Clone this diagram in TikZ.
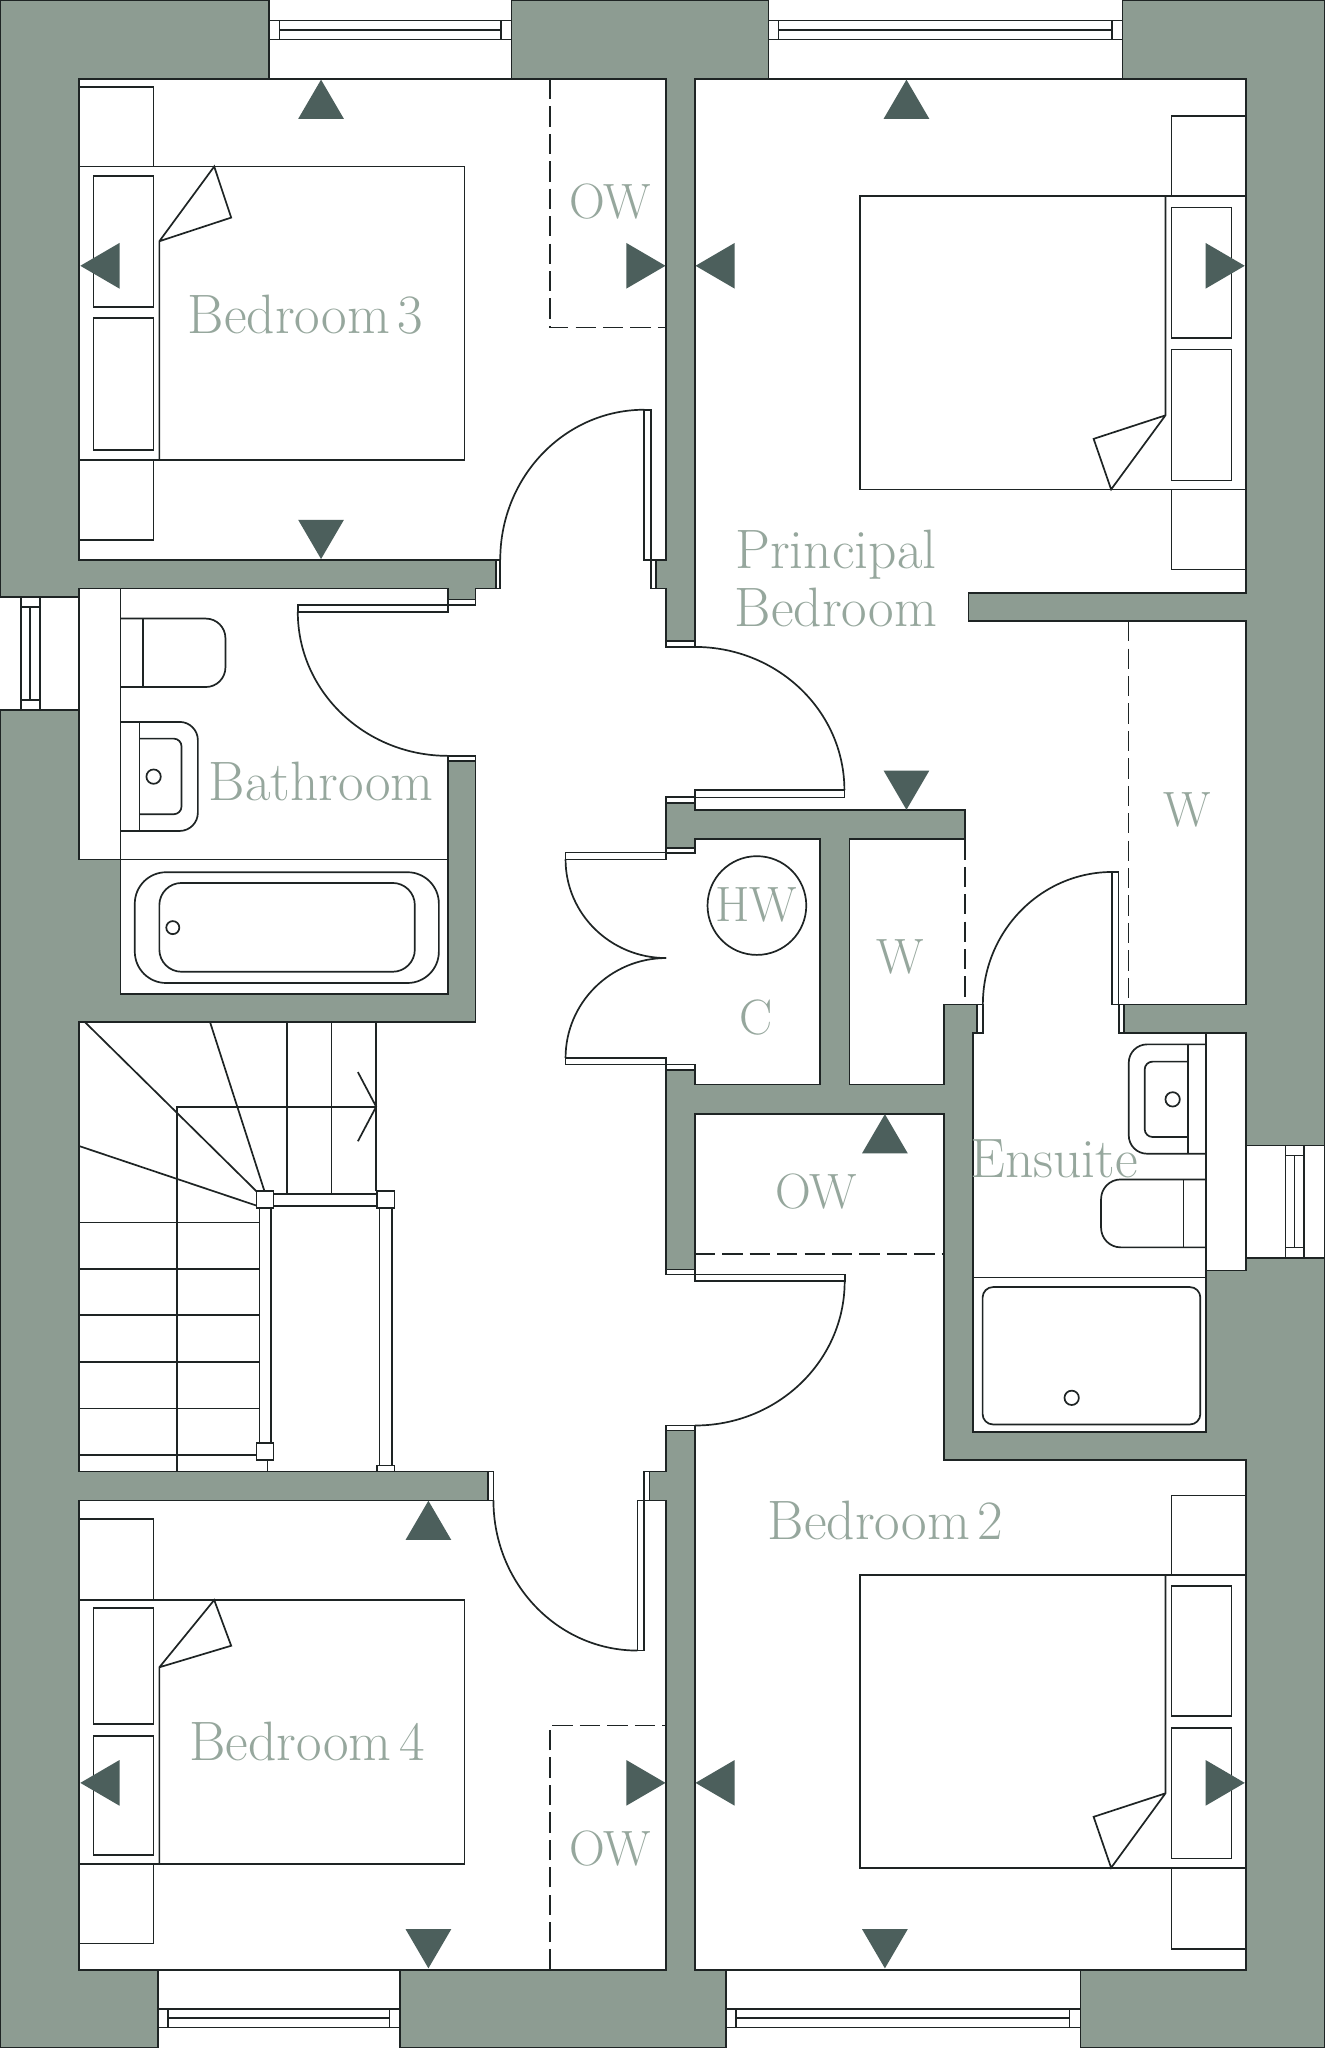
\documentclass[tikz,border=0pt]{standalone}
\usepackage{fontspec}
\newfontfamily\labfont{Latin Modern Roman}
\definecolor{wallc}{HTML}{8D9C92}
\definecolor{markc}{HTML}{4C5F5C}
\definecolor{labelc}{HTML}{96A79D}
\definecolor{inkc}{HTML}{1E2424}
\tikzset{
  ln/.style={draw=inkc,line width=1.3pt,line join=miter},
  dsh/.style={draw=inkc,line width=1.3pt,dash pattern=on 15.5pt off 5.5pt},
  wh/.style={fill=white,draw=none},
  jamb/.style={fill=white,draw=inkc,line width=1.3pt},
  markfill/.style={fill=markc,draw=none},
  lab/.style={text=labelc,font=\labfont\fontsize{42.5}{44}\selectfont,inner sep=0pt,align=center},
  labs/.style={text=labelc,font=\labfont\fontsize{38}{44}\selectfont,inner sep=0pt,align=center}
}
\newcommand\markU[2]{\fill[markfill] (#1,#2) -- (#1+17.5,#2+30) -- (#1-17.5,#2+30) -- cycle;}
\newcommand\markD[2]{\fill[markfill] (#1,#2) -- (#1+17.5,#2-30) -- (#1-17.5,#2-30) -- cycle;}
\newcommand\markL[2]{\fill[markfill] (#1,#2) -- (#1+30,#2-17.5) -- (#1+30,#2+17.5) -- cycle;}
\newcommand\markR[2]{\fill[markfill] (#1,#2) -- (#1-30,#2-17.5) -- (#1-30,#2+17.5) -- cycle;}
% horizontal window: x1 x2 inner1 inner2 y1 yc y2
\newcommand\winH[7]{\draw[ln] (#1,#5) rectangle (#2,#7); \draw[ln] (#3,#5) -- (#3,#7) (#4,#5) -- (#4,#7) (#3,#6) -- (#4,#6);}
\begin{document}
\begin{tikzpicture}[x=1pt,y=-1pt]
\useasboundingbox (0,0) rectangle (1014,1568);
\fill[wallc] (0,0) rectangle (1014,1568);
\draw[inkc,line width=1.4pt] (0,0) rectangle (1014,1568);
% ---------- white areas
\fill[wh] (60.5,60.5) rectangle (510,428.5);
\fill[wh] (206,0) rectangle (391.5,60.5);
\fill[wh] (588.3,0) rectangle (859.3,60.5);
\fill[wh] (121,1508) rectangle (306,1568);
\fill[wh] (555.6,1508) rectangle (827.3,1568);
\fill[wh] (0,457) rectangle (60.5,543.8);
\fill[wh] (953.8,876.9) rectangle (1014,963);
\fill[wh] (383,428.5) rectangle (498.5,450.6);
\fill[wh] (364,450.6) rectangle (510,782.5);
\fill[wh] (60.5,782.5) rectangle (510,1126.6);
\fill[wh] (92.3,450.6) rectangle (343,760.8);
\fill[wh] (60.5,450.6) rectangle (92.3,658);
\fill[wh] (343,463.3) rectangle (364,578.7);
\fill[wh] (510,495.3) rectangle (532,610);
\fill[wh] (510,653) rectangle (532,815);
\fill[wh] (510,975.7) rectangle (532,1091.4);
\fill[wh] (532,60.5) rectangle (954,454);
\fill[wh] (532,454) rectangle (741.4,620.4);
\fill[wh] (738.7,475.6) rectangle (954,769);
\fill[wh] (650.4,642.6) rectangle (738.7,769);
\fill[wh] (650.4,769) rectangle (722.6,830.4);
\fill[wh] (752.5,769) rectangle (856.6,791);
\fill[wh] (744.8,791) rectangle (923.4,1096.5);
\fill[wh] (923.4,791) rectangle (953.8,972.7);
\fill[wh] (532,642.6) rectangle (628,830.4);
\fill[wh] (532,853) rectangle (722.6,1118);
\fill[wh] (532,1118) rectangle (954,1508);
\fill[wh] (60.5,1148.8) rectangle (510,1508);
\fill[wh] (377.8,1126.6) rectangle (493.2,1148.8);
% ---------- wall outlines
\draw[ln] (383,428.5) -- (60.5,428.5) -- (60.5,60.5) -- (510,60.5) -- (510,428.5) -- (502.5,428.5) -- (502.5,450.6) -- (510,450.6) -- (510,490.6);
\draw[ln] (532,490.6) -- (532,60.5) -- (954,60.5) -- (954,454) -- (741.4,454) -- (741.4,475.6) -- (954,475.6) -- (954,769) -- (860.5,769);
\draw[ln] (510,615) -- (510,649);
\draw[ln] (532,605) -- (532,620.4) -- (738.7,620.4) -- (738.7,642.6) -- (650.4,642.6) -- (650.4,830.4) -- (722.6,830.4) -- (722.6,769) -- (748,769);
\draw[ln] (532,649) -- (532,642.6) -- (628,642.6) -- (628,830.4) -- (532,830.4) -- (532,819);
\draw[ln] (510,819) -- (510,972);
\draw[ln] (532,972) -- (532,853) -- (722.6,853) -- (722.6,1118) -- (954,1118) -- (954,1508) -- (532,1508) -- (532,1095.2);
\draw[ln] (510,1095.2) -- (510,1126.6) -- (497.3,1126.6) -- (497.3,1148.8) -- (510,1148.8) -- (510,1508) -- (60.5,1508) -- (60.5,1148.8) -- (377.8,1148.8);
\draw[ln] (377.8,1126.6) -- (60.5,1126.6) -- (60.5,782.5) -- (364,782.5) -- (364,582.8);
\draw[ln] (343,582.8) -- (343,760.8) -- (92.3,760.8) -- (92.3,658) -- (60.5,658) -- (60.5,450.6) -- (343,450.6) -- (343,459);
\draw[ln] (364,459) -- (364,450.6) -- (383,450.6);
\draw[ln] (92.3,450.6) -- (92.3,658) (92.3,658) -- (343,658);
\draw[ln] (752.5,791) -- (744.8,791) -- (744.8,1096.5) -- (923.4,1096.5) -- (923.4,972.7) -- (953.8,972.7) -- (953.8,791) -- (856.6,791);
\draw[ln] (923.4,791) -- (923.4,972.7) (744.8,978) -- (923.4,978);
% ---------- door jambs
\draw[jamb] (510,490.6) rectangle (532,495.3);
\draw[jamb] (510,610) rectangle (532,615);
\draw[jamb] (510,649) rectangle (532,653);
\draw[jamb] (510,815) rectangle (532,819);
\draw[jamb] (510,972) rectangle (532,975.7);
\draw[jamb] (510,1091.4) rectangle (532,1095.2);
\draw[jamb] (379.5,428.5) rectangle (383,450.6);
\draw[jamb] (498.5,428.5) rectangle (502.5,450.6);
\draw[jamb] (343,459) rectangle (364,463.3);
\draw[jamb] (343,578.7) rectangle (364,582.8);
\draw[jamb] (748,769) rectangle (752.5,791);
\draw[jamb] (856.6,769) rectangle (860.5,791);
\draw[jamb] (373.5,1126.6) rectangle (377.8,1148.8);
\draw[jamb] (493.2,1126.6) rectangle (497.3,1148.8);
% ---------- door leaves
\draw[jamb] (493.3,313.7) rectangle (498.5,428.5);
\draw[jamb] (228,463.3) rectangle (343,468.5);
\draw[jamb] (532,605) rectangle (646.5,610.5);
\draw[jamb] (433,652.8) rectangle (510,658);
\draw[jamb] (433,810) rectangle (510,815);
\draw[jamb] (851.6,667.6) rectangle (856.4,769);
\draw[jamb] (532,975.7) rectangle (646.7,981);
\draw[jamb] (488,1148.8) rectangle (493.2,1263.7);
% ---------- door swings
\draw[ln] (493.3,313.7) .. controls (432.4,313.7) and (383,365.1) .. (383,428.5);
\draw[ln] (228,468.5) .. controls (228,529.4) and (279.5,578.7) .. (343,578.7);
\draw[ln] (532,495.3) .. controls (595.2,495.3) and (646.5,544.4) .. (646.5,605);
\draw[ln] (433,658) .. controls (433,699.7) and (467.5,733.5) .. (510,733.5);
\draw[ln] (433,810) .. controls (433,767.8) and (467.5,733.5) .. (510,733.5);
\draw[ln] (851.6,667.6) .. controls (796.9,667.6) and (752.5,713) .. (752.5,769);
\draw[ln] (646.7,981) .. controls (646.7,1042) and (595.4,1091.4) .. (532,1091.4);
\draw[ln] (377.8,1148.8) .. controls (377.8,1212.3) and (427.1,1263.7) .. (488,1263.7);
% ---------- dashed
\draw[dsh] (864,475.6) -- (864,769);
\draw[dsh] (738.7,642.6) -- (738.7,769);
\draw[dsh] (532,960) -- (722.6,960);
\draw[dsh] (421,60.5) -- (421,250.8) -- (510,250.8);
\draw[dsh] (421,1508) -- (421,1321) -- (510,1321);
% ---------- windows
\draw[ln] (206,0) -- (206,60.5) (391.5,0) -- (391.5,60.5);
\winH{206}{391.5}{214}{383.6}{15.8}{23}{30.3}
\draw[ln] (588.3,0) -- (588.3,60.5) (859.3,0) -- (859.3,60.5);
\winH{588.3}{859.3}{596}{851.4}{15.8}{23}{30.3}
\draw[ln] (121,1508) -- (121,1568) (306,1508) -- (306,1568);
\winH{121}{306}{128.7}{298.2}{1538}{1545}{1552.2}
\draw[ln] (555.6,1508) -- (555.6,1568) (827.3,1508) -- (827.3,1568);
\winH{555.6}{827.3}{563.4}{818.8}{1538}{1545}{1552.2}
\draw[ln] (0,457) -- (60.5,457) (0,543.8) -- (60.5,543.8);
\draw[ln] (16,457) rectangle (30.8,543.8);
\draw[ln] (16,464.6) -- (30.8,464.6) (16,536) -- (30.8,536) (23,464.6) -- (23,536);
\draw[ln] (953.8,876.9) -- (1014,876.9) (953.8,963) -- (1014,963);
\draw[ln] (984.2,876.9) rectangle (998.2,963);
\draw[ln] (984.2,884.6) -- (998.2,884.6) (984.2,955) -- (998.2,955) (991,884.6) -- (991,955);
% ---------- bedroom 3 furniture
\draw[ln] (60.5,66.6) -- (117.6,66.6) -- (117.6,127.5);
\draw[ln] (60.5,127.5) -- (355.6,127.5) -- (355.6,352.2) -- (60.5,352.2);
\draw[ln] (122,352.2) -- (122,184.7) -- (164,127.5) -- (177,166.6) -- (122,184.7);
\draw[ln] (71.5,135) rectangle (117.6,235.3);
\draw[ln] (71.5,243.5) rectangle (117.6,344.3);
\draw[ln] (117.6,352.2) -- (117.6,413.4) -- (60.5,413.4);
% ---------- bedroom 4 furniture
\draw[ln] (60.5,1163) -- (117.6,1163) -- (117.6,1225);
\draw[ln] (60.5,1225) -- (355.6,1225) -- (355.6,1427) -- (60.5,1427);
\draw[ln] (122,1427) -- (122,1276.5) -- (164,1225) -- (177,1260) -- (122,1276.5);
\draw[ln] (71.5,1231) rectangle (117.6,1320);
\draw[ln] (71.5,1329) rectangle (117.6,1420);
\draw[ln] (117.6,1427) -- (117.6,1488) -- (60.5,1488);
% ---------- principal bedroom furniture
\draw[ln] (954,89) -- (897,89) -- (897,150.3);
\draw[ln] (954,150.3) -- (658.5,150.3) -- (658.5,374.7) -- (954,374.7);
\draw[ln] (892.3,150.3) -- (892.3,318) -- (850.7,374.7) -- (837.3,336) -- (892.3,318);
\draw[ln] (897,158.8) rectangle (942.8,259);
\draw[ln] (897,267.5) rectangle (942.8,367.8);
\draw[ln] (897,374.7) -- (897,436) -- (954,436);
% ---------- bedroom 2 furniture
\draw[ln] (954,1145) -- (897,1145) -- (897,1206);
\draw[ln] (954,1206) -- (658.5,1206) -- (658.5,1430) -- (954,1430);
\draw[ln] (892.3,1206) -- (892.3,1373) -- (850.7,1430) -- (837.3,1391) -- (892.3,1373);
\draw[ln] (897,1214) rectangle (942.8,1314);
\draw[ln] (897,1323) rectangle (942.8,1423);
\draw[ln] (897,1430) -- (897,1492) -- (954,1492);
% ---------- bathroom fittings
\draw[ln,rounded corners=15pt] (92.3,473.6) -- (172.6,473.6) -- (172.6,526) -- (92.3,526);
\draw[ln] (109.4,473.6) -- (109.4,526);
\draw[ln,rounded corners=14pt] (92.3,552.7) -- (151.5,552.7) -- (151.5,636.2) -- (92.3,636.2);
\draw[ln] (106.7,552.7) -- (106.7,636.2);
\draw[ln,rounded corners=6pt] (106.7,565.5) -- (139,565.5) -- (139,623.4) -- (106.7,623.4);
\draw[ln] (117.6,594.6) circle (5.5);
\draw[ln,rounded corners=24pt] (103.2,667.8) rectangle (336,752.6);
\draw[ln,rounded corners=17pt] (122,676) rectangle (317.6,744);
\draw[ln] (132.3,710.2) circle (5);
% ---------- ensuite fittings
\draw[ln,rounded corners=14pt] (923.4,799.6) -- (864.2,799.6) -- (864.2,883.3) -- (923.4,883.3);
\draw[ln] (909.4,799.6) -- (909.4,883.3);
\draw[ln,rounded corners=6pt] (909.4,812.8) -- (876.4,812.8) -- (876.4,870.5) -- (909.4,870.5);
\draw[ln] (897.8,841.7) circle (5.5);
\draw[ln,rounded corners=15pt] (923.4,903) -- (843,903) -- (843,955) -- (923.4,955);
\draw[ln] (906.2,903) -- (906.2,955);
\draw[ln,rounded corners=8pt] (752.3,985.4) rectangle (919,1090.6);
\draw[ln] (820.5,1070.2) circle (5.5);
% ---------- hot water cylinder
\draw[ln] (579.5,693.3) circle (37.8);
% ---------- stairs
\draw[ln] (135.3,1126.6) -- (135.3,847.3) -- (288,847.3);
\draw[ln] (288,782.5) -- (288,912);
\draw[ln] (219.8,782.5) -- (219.8,914.2) (253.7,782.5) -- (253.7,914.2);
\draw[ln] (196.3,912) -- (65,782.5) (202.5,912) -- (160.8,782.5) (196.3,923) -- (60.5,877.4);
\foreach \ry in {936,971.4,1007,1042.6,1078.3} {\draw[ln] (60.5,\ry) -- (198.6,\ry);}
\draw[ln] (60.5,1113.9) -- (196.3,1113.9);
\draw[ln] (198.6,925) rectangle (207.3,1104.6);
\draw[ln] (209.3,914.2) rectangle (288.5,923.4);
\draw[ln] (290.5,925) rectangle (300,1122);
\draw[ln] (204.8,1118) -- (204.8,1126.6);
\draw[jamb] (196.3,912) rectangle (209.3,925);
\draw[jamb] (196.3,1104.6) rectangle (209.3,1118);
\draw[jamb] (288.5,912) rectangle (302,925);
\draw[jamb] (288.5,1122) rectangle (302,1126.6);
\draw[ln] (274,820.8) -- (288,847.3) -- (274,873.8);
% ---------- view markers
\markU{245.8}{61}
\markD{245.8}{428}
\markL{61.5}{203.5}
\markR{509.5}{203.5}
\markU{694}{61}
\markL{532.5}{203.5}
\markR{953}{203.5}
\markD{694}{620}
\markU{677.5}{853}
\markU{328}{1149}
\markD{328}{1507}
\markL{61.5}{1365}
\markR{509.5}{1365}
\markL{532.5}{1365}
\markR{953}{1365}
\markD{677.5}{1507}
% ---------- labels
\node[lab] (bed3) at (234,241) {Bedroom\kern6pt 3};
\node[labs] (ow1) at (467,154) {OW};
\node[lab] (prin) at (640,443) {Principal\\Bedroom};
\node[labs] (w1) at (909,620) {W};
\node[lab] (bath) at (246,598) {Bathroom};
\node[labs] (hw) at (579,693) {HW};
\node[labs] (c) at (579,779) {C};
\node[labs] (w2) at (689,733) {W};
\node[labs] (ow2) at (625,912) {OW};
\node[lab] (ens) at (807,887) {Ensuite};
\node[lab] (bed2) at (678,1164) {Bedroom\kern6pt 2};
\node[lab] (bed4) at (235,1333) {Bedroom\kern6pt 4};
\node[labs] (ow3) at (467,1415) {OW};
\end{tikzpicture}
\end{document}
